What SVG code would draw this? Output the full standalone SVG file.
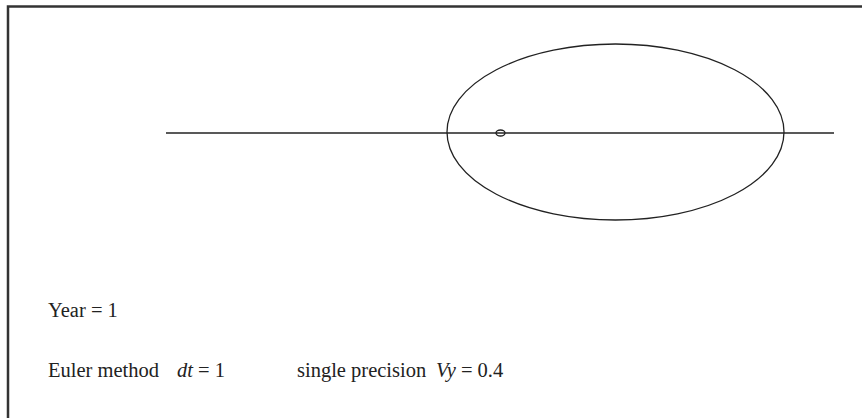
<svg xmlns="http://www.w3.org/2000/svg" width="862" height="418" viewBox="0 0 862 418">
<style>
.ln{fill:none;stroke:#222;stroke-width:1.3}
.tx{font-family:"Liberation Serif","Times New Roman",serif;font-size:20.5px;fill:#222}
.it{font-style:italic}
</style>
<rect width="862" height="418" fill="#fff"/>
<path d="M8,418 V6.5 H862" fill="none" stroke="#333" stroke-width="2.5"/>
<g id="axis"><line class="ln" x1="166" y1="133" x2="834" y2="133"/></g>
<g id="orbit"><ellipse class="ln" cx="615.5" cy="132" rx="168.5" ry="88"/></g>
<g id="body"><ellipse class="ln" cx="500.5" cy="133" rx="4.5" ry="3"/></g>
<g id="labels">
<text class="tx" x="48" y="317">Year = 1</text>
<text class="tx" x="48" y="377">Euler method<tspan x="177" class="it">dt</tspan> = 1</text>
<text class="tx" x="297" y="377">single precision<tspan class="it" x="436">Vy</tspan> = 0.4</text>
</g>
</svg>
